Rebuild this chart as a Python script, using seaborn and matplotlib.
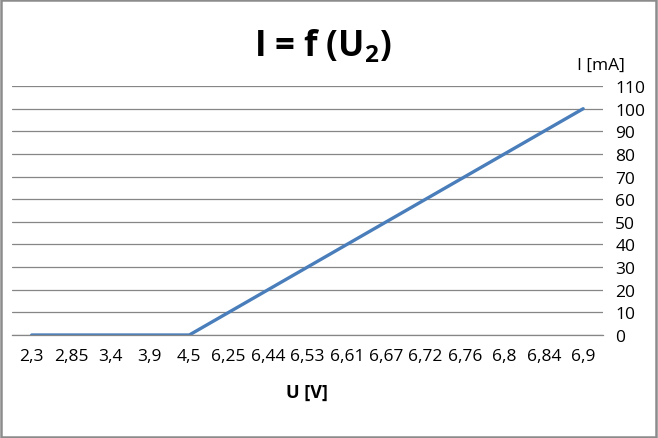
import matplotlib
matplotlib.use("Agg")
import matplotlib.pyplot as plt
from matplotlib.ticker import FixedLocator
from matplotlib.patches import Rectangle
import seaborn as sns
import pandas as pd

# data
u_labels = ["2,3", "2,85", "3,4", "3,9", "4,5", "6,25", "6,44", "6,53",
            "6,61", "6,67", "6,72", "6,76", "6,8", "6,84", "6,9"]
i_values = [0, 0, 0, 0, 0, 10, 20, 30, 40, 50, 60, 70, 80, 90, 100]
y_ticks = list(range(0, 111, 10))

sns.set_style("white")
plt.rcParams['font.family'] = ['Open Sans', 'DejaVu Sans']
plt.rcParams['mathtext.fontset'] = 'custom'
plt.rcParams['mathtext.rm'] = 'Open Sans'
plt.rcParams['mathtext.bf'] = 'Open Sans:bold'
plt.rcParams['mathtext.default'] = 'bf'
plt.rcParams['text.color'] = 'black'
plt.rcParams['axes.labelcolor'] = 'black'

df = pd.DataFrame({'pos': range(len(u_labels)), 'I': i_values})

fig = plt.figure(figsize=(6.58, 4.39), dpi=100)
ax = fig.add_axes([0.0182, 0.2346, 0.898, 0.567])

sns.lineplot(data=df, x='pos', y='I', ax=ax, color='#4A7EBB', linewidth=2.4, sort=False)

grid_col = '#868686'
ax.set_xlim(-0.5, len(u_labels) - 0.5)
ax.set_ylim(0, 110)
ax.set_yticks(y_ticks)
ax.yaxis.tick_right()
ax.tick_params(axis='y', length=0, labelsize=12.5, pad=9, colors='black')
ax.grid(axis='y', color=grid_col, linewidth=0.9)
ax.set_axisbelow(True)

ax.set_xticks(range(len(u_labels)))
ax.set_xticklabels(u_labels)
ax.tick_params(axis='x', which='major', length=0, labelsize=12.5, pad=9, labelcolor='black')
ax.xaxis.set_minor_locator(FixedLocator([k - 0.5 for k in range(len(u_labels) + 1)]))
ax.tick_params(axis='x', which='minor', length=5, color=grid_col, width=0.9)

for s in ['top', 'left', 'right']:
    ax.spines[s].set_visible(False)
ax.spines['bottom'].set_color(grid_col)
ax.spines['bottom'].set_linewidth(0.9)

ax.set_xlabel('U [V]', fontsize=13, fontweight='bold', labelpad=14)
ax.set_ylabel('')

fig.text(0.49, 0.895, 'I = f (U$_2$)', fontsize=25, fontweight='bold', ha='center', va='center')
fig.text(0.913, 0.849, 'I [mA]', fontsize=12.5, ha='center', va='center')

fig.patches.append(Rectangle((0.002, 0.003), 0.995, 0.994, transform=fig.transFigure,
                             fill=False, edgecolor='#8c8c8c', linewidth=1.8))

plt.savefig('out.png', dpi=100)
